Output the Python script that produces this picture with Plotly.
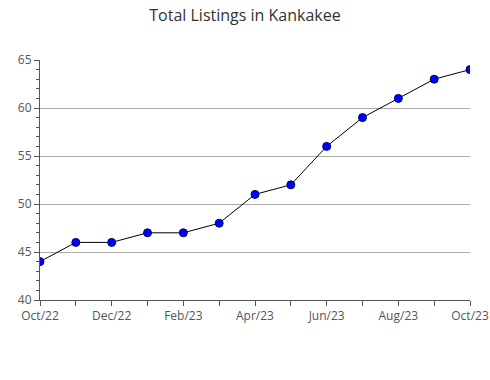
import plotly.graph_objects as go

months = ["Oct/22", "Nov/22", "Dec/22", "Jan/23", "Feb/23", "Mar/23", "Apr/23",
          "May/23", "Jun/23", "Jul/23", "Aug/23", "Sep/23", "Oct/23"]
listings = [44, 46, 46, 47, 47, 48, 51, 52, 56, 59, 61, 63, 64]
tick_labels = ["Oct/22", "Dec/22", "Feb/23", "Apr/23", "Jun/23", "Aug/23", "Oct/23"]

x_idx = list(range(len(months)))

fig = go.Figure()
fig.add_trace(go.Scatter(
    x=x_idx, y=listings, mode="lines+markers",
    line=dict(color="black", width=1),
    marker=dict(color="#0000ff", size=8, line=dict(color="#000066", width=1)),
    hovertext=months, hoverinfo="text+y",
))

fig.update_layout(
    width=490, height=380,
    margin=dict(l=40, r=20, t=60, b=80),
    paper_bgcolor="white", plot_bgcolor="white",
    font=dict(family="Open Sans", size=12, color="#555"),
    title=dict(text="Total Listings in Kankakee", x=0.5, xanchor="center",
               y=0.96, yanchor="middle",
               font=dict(family="Open Sans", size=16, color="#333")),
    showlegend=False,
)
fig.update_xaxes(
    range=[0, 12], tickmode="array", tickvals=list(range(0, 13, 2)), ticktext=tick_labels,
    automargin=False,
    showgrid=False, zeroline=False, showline=True, linecolor="#555", linewidth=1,
    ticks="outside", ticklen=5, tickcolor="#555",
    minor=dict(dtick=1, ticks="outside", ticklen=5, tickcolor="#555", showgrid=False),
)
fig.update_yaxes(
    range=[40, 65], dtick=5, showgrid=True, gridcolor="#aaaaaa", gridwidth=1,
    automargin=False,
    zeroline=False, showline=True, linecolor="#555", linewidth=1,
    ticks="outside", ticklen=5, tickcolor="#555",
    minor=dict(dtick=1, ticks="outside", ticklen=3, tickcolor="#555", showgrid=False),
)

fig.write_html("out.html")
